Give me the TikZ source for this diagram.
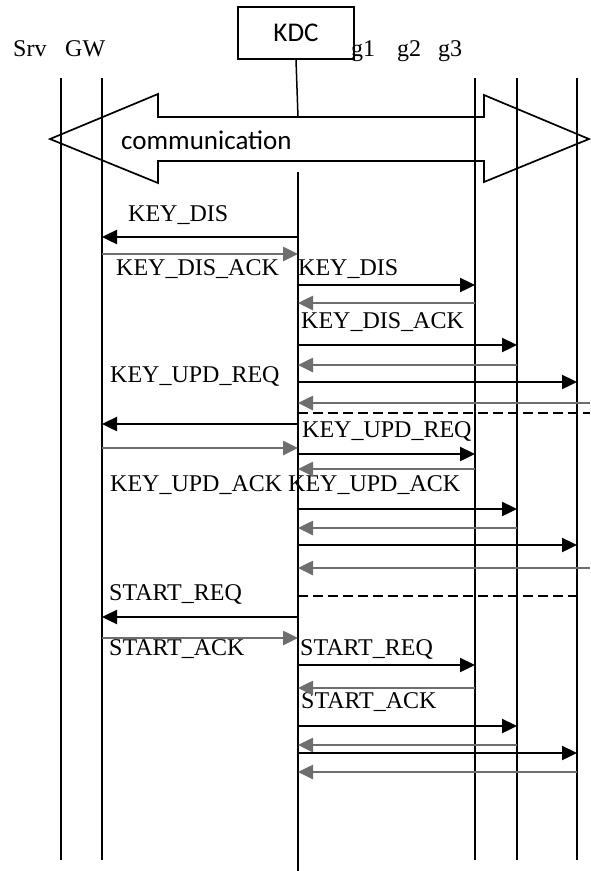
\documentclass[tikz,border=0pt]{standalone}
\usepackage{fontspec}
\setmainfont{Liberation Serif}
\newfontfamily\kdcsans{Carlito}
\usetikzlibrary{arrows.meta}
\definecolor{ackgrey}{HTML}{6E6E6E}

\begin{document}
\begin{tikzpicture}[x=1pt, y=-1pt,
  life/.style={line width=1.5pt},
  req/.style={-{Triangle[length=15pt,width=14pt]}, line width=2.4pt, draw=black},
  ack/.style={-{Triangle[length=15pt,width=14pt]}, line width=2.6pt, draw=ackgrey},
  sepline/.style={dash pattern=on 10pt off 5pt, line width=2pt},
  msg/.style={anchor=base west, inner sep=0pt, font=\fontsize{24}{28}\selectfont},
  sanslbl/.style={inner sep=0pt, font=\kdcsans\fontsize{27}{31}\selectfont}]
  \useasboundingbox (0,0) rectangle (590,871);

  \coordinate (srv) at (61,78);
  \coordinate (gw) at (102,78);
  \coordinate (kdc) at (298,172);
  \coordinate (g1) at (475,78);
  \coordinate (g2) at (517,78);
  \coordinate (g3) at (577,78);
  \coordinate (edge) at (590,78);

  \node[msg] (srvname) at (13,56) {Srv};
  \node[msg] (gwname) at (65,56) {GW};
  \node[msg] (g1name) at (351,56) {g1};
  \node[msg] (g2name) at (397,56) {g2};
  \node[msg] (g3name) at (438,56) {g3};
  \node[draw, line width=1.5pt, minimum width=116pt, minimum height=52pt,
    sanslbl] (kdcbox) at (296,33) {KDC};

  \draw[life] (srv) -- (srv |- 0,860);
  \draw[life] (gw) -- (gw |- 0,860);
  \draw[life] (g1) -- (g1 |- 0,860);
  \draw[life] (g2) -- (g2 |- 0,860);
  \draw[life] (g3) -- (g3 |- 0,860);
  \draw[life] (kdcbox.south) -- (kdc |- 0,117);
  \draw[life] (kdc) -- (kdc |- 0,871);

  \draw[line width=1.7pt, line join=miter] (50,139) -- (158,94) -- (158,117)
    -- (484,117) -- (484,95) -- (589,139) -- (484,182) -- (484,161)
    -- (158,161) -- (158,183) -- cycle;
  \node[sanslbl, anchor=west] (comm) at (121,140) {communication};

  \node[msg] (keydis) at (128,221) {KEY\_DIS};
  \node[msg] (keydisack) at (116,275) {KEY\_DIS\_ACK};
  \node[msg] (keydisg) at (298,275) {KEY\_DIS};
  \node[msg] (keydisackg) at (301,328) {KEY\_DIS\_ACK};
  \node[msg] (updreq) at (110,382) {KEY\_UPD\_REQ};
  \node[msg] (updreqg) at (302,437) {KEY\_UPD\_REQ};
  \node[msg] (updack) at (110,491) {KEY\_UPD\_ACK};
  \node[msg] (updackg) at (288,491) {KEY\_UPD\_ACK};
  \node[msg] (startreq) at (109,600) {START\_REQ};
  \node[msg] (startack) at (109,655) {START\_ACK};
  \node[msg] (startreqg) at (300,655) {START\_REQ};
  \node[msg] (startackg) at (301,708) {START\_ACK};

  \draw[req] (kdc |- 0,237) -- (gw |- 0,237);
  \draw[ack] (gw |- 0,254) -- (kdc |- 0,254);
  \draw[req] (kdc |- 0,285) -- (g1 |- 0,285);
  \draw[ack] (g1 |- 0,303) -- (kdc |- 0,303);
  \draw[req] (kdc |- 0,345) -- (g2 |- 0,345);
  \draw[ack] (g2 |- 0,365) -- (kdc |- 0,365);
  \draw[req] (kdc |- 0,382) -- (g3 |- 0,382);
  \draw[ack] (edge |- 0,403) -- (kdc |- 0,403);
  \draw[sepline] (kdc |- 0,413) -- (edge |- 0,413);

  \draw[req] (kdc |- 0,424) -- (gw |- 0,424);
  \draw[ack] (gw |- 0,448) -- (kdc |- 0,448);
  \draw[req] (kdc |- 0,454) -- (g1 |- 0,454);
  \draw[ack] (g1 |- 0,469) -- (kdc |- 0,469);
  \draw[req] (kdc |- 0,509) -- (g2 |- 0,509);
  \draw[ack] (g2 |- 0,528) -- (kdc |- 0,528);
  \draw[req] (kdc |- 0,545) -- (g3 |- 0,545);
  \draw[ack] (edge |- 0,568) -- (kdc |- 0,568);
  \draw[sepline] (kdc |- 0,596) -- (g3 |- 0,596);

  \draw[req] (kdc |- 0,617) -- (gw |- 0,617);
  \draw[ack] (gw |- 0,638) -- (kdc |- 0,638);
  \draw[req] (kdc |- 0,665) -- (g1 |- 0,665);
  \draw[ack] (g1 |- 0,688) -- (kdc |- 0,688);
  \draw[req] (kdc |- 0,726) -- (g2 |- 0,726);
  \draw[ack] (g2 |- 0,745) -- (kdc |- 0,745);
  \draw[req] (kdc |- 0,753) -- (g3 |- 0,753);
  \draw[ack] (g3 |- 0,772) -- (kdc |- 0,772);
\end{tikzpicture}
\end{document}
